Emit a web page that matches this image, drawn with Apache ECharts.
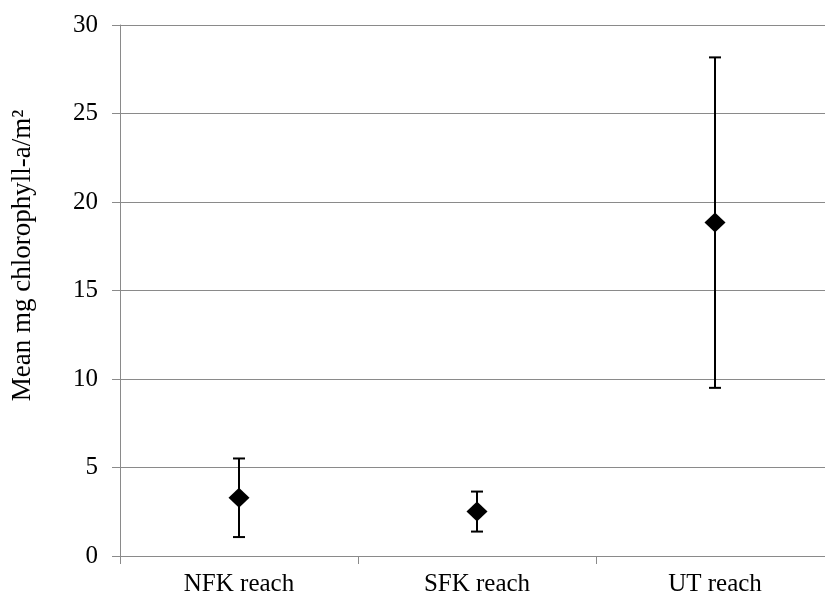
<!DOCTYPE html>
<html><head><meta charset="utf-8">
<script src="https://cdn.jsdelivr.net/npm/echarts@6/dist/echarts.min.js"></script>
<style>html,body{margin:0;padding:0;background:#fff;overflow:hidden;width:825px;height:597px}#c{width:834px;height:597px}</style>
</head><body><div id="c"></div>
<script>
const categories = ['NFK reach', 'SFK reach', 'UT reach'];
const means = [3.29, 2.52, 18.84];
const lowerBounds = [1.07, 1.38, 9.50];
const upperBounds = [5.51, 3.64, 28.17];
const yTicks = [0, 5, 10, 15, 20, 25, 30];

const chart = echarts.init(document.getElementById('c'));
const font = '"Liberation Serif", "Times New Roman", serif';
const gray = '#8a8a8a';
chart.setOption({
  animation: false,
  grid: { left: 120, top: 25, right: 0, bottom: 40, containLabel: false },
  xAxis: {
    type: 'category', data: categories, boundaryGap: true,
    axisLine: { lineStyle: { color: gray, width: 1 } },
    axisTick: { show: true, length: 8, lineStyle: { color: gray } },
    axisLabel: { color: '#000', fontFamily: font, fontSize: 25, margin: 16 }
  },
  yAxis: {
    type: 'value', min: yTicks[0], max: yTicks[yTicks.length - 1], interval: 5,
    name: 'Mean mg chlorophyll-a/m²', nameLocation: 'middle', nameGap: 84, nameRotate: 90,
    nameTextStyle: { color: '#000', fontFamily: font, fontSize: 27, padding: [0, 0, 0, 70] },
    axisLine: { show: true, lineStyle: { color: gray, width: 1 } },
    axisTick: { show: true, length: 8, lineStyle: { color: gray } },
    axisLabel: { color: '#000', fontFamily: font, fontSize: 25, margin: 22 },
    splitLine: { show: true, lineStyle: { color: gray, width: 1 } }
  },
  series: [
    {
      type: 'custom',
      data: categories.map((c, i) => [i, lowerBounds[i], upperBounds[i]]),
      renderItem: function (params, api) {
        const x = api.value(0);
        const lo = api.coord([x, api.value(1)]);
        const hi = api.coord([x, api.value(2)]);
        const hw = 6;
        const style = { stroke: '#000', lineWidth: 2 };
        return {
          type: 'group',
          children: [
            { type: 'line', shape: { x1: lo[0], y1: lo[1], x2: hi[0], y2: hi[1] }, style },
            { type: 'line', shape: { x1: hi[0] - hw, y1: hi[1], x2: hi[0] + hw, y2: hi[1] }, style },
            { type: 'line', shape: { x1: lo[0] - hw, y1: lo[1], x2: lo[0] + hw, y2: lo[1] }, style }
          ]
        };
      },
      z: 2
    },
    {
      type: 'scatter',
      data: means,
      symbol: 'diamond',
      symbolSize: [21, 20],
      itemStyle: { color: '#000', opacity: 1 },
      z: 3
    }
  ]
});
</script></body></html>
